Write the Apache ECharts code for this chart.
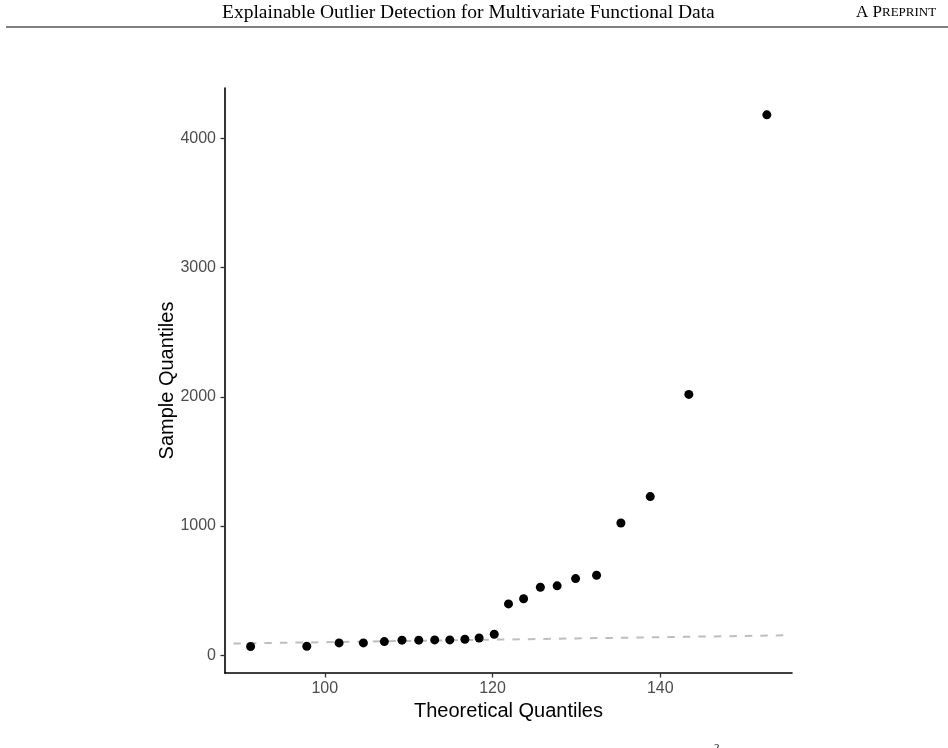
<!DOCTYPE html>
<html>
<head>
<meta charset="utf-8">
<title>QQ plot</title>
<script src="https://cdn.jsdelivr.net/npm/echarts@6.0.0/dist/echarts.min.js"></script>
<style>
  html, body { margin: 0; padding: 0; background: #fff; }
  #myChart { width: 948px; height: 748px; }
</style>
</head>
<body>
<div id="myChart"></div>
<script>
// theoretical vs sample quantiles
var theoretical = [91.15, 97.85, 101.7, 104.6, 107.1, 109.2, 111.2, 113.1, 114.9, 116.7, 118.4,
  120.2, 121.9, 123.7, 125.7, 127.7, 129.9, 132.4, 135.3, 138.8, 143.4, 152.7];
var sample = [67, 69, 95, 95, 105, 116, 116, 118, 118, 123, 133,
  162, 397, 437, 526, 537, 593, 619, 1023, 1228, 2019, 4183];

// reference (qq) line end points
var lineX = [89.1, 155.1];
var lineY = [90, 154];

// tick labels
var xTicks = [100, 120, 140];
var yTicks = [0, 1000, 2000, 3000, 4000];

var points = [];
for (var i = 0; i < theoretical.length; i++) {
  points.push([theoretical[i], sample[i]]);
}
var qqLine = [];
for (var j = 0; j < lineX.length; j++) {
  qqLine.push([lineX[j], lineY[j]]);
}

var myChart = echarts.init(document.getElementById('myChart'), null, { renderer: 'canvas' });

myChart.setOption({
  backgroundColor: '#fff',
  animation: false,
  graphic: [
    {
      type: 'text', left: 222, top: 3,
      style: { text: 'Explainable Outlier Detection for Multivariate Functional Data',
        font: '19.5px "Liberation Serif", serif', fill: '#000' }
    },
    {
      type: 'text', left: 856, top: 4,
      style: {
        text: '{a|A P}{b|REPRINT}',
        rich: {
          a: { font: '17px "Liberation Serif", serif', fill: '#000' },
          b: { font: '13px "Liberation Serif", serif', fill: '#000' }
        }
      }
    },
    {
      type: 'line',
      shape: { x1: 6, y1: 27, x2: 948, y2: 27 },
      style: { stroke: '#000', lineWidth: 1 }
    },
    {
      type: 'text', left: 714, top: 743,
      style: { text: '2', font: '11px "Liberation Serif", serif', fill: '#000' }
    }
  ],
  grid: { left: 225, top: 88, right: 156, bottom: 75, containLabel: false },
  xAxis: {
    type: 'value',
    min: 88.1,
    max: 155.7,
    name: 'Theoretical Quantiles',
    nameLocation: 'middle',
    nameGap: 28,
    nameMoveOverlap: false,
    nameTextStyle: { fontFamily: 'Liberation Sans', fontSize: 20, color: '#000' },
    splitLine: { show: false },
    axisLine: { show: true, onZero: false, lineStyle: { color: '#000', width: 1.6 } },
    axisTick: { show: true, length: 4.5, customValues: xTicks, lineStyle: { color: '#333', width: 1.3 } },
    axisLabel: { customValues: xTicks, margin: 8, fontFamily: 'Liberation Sans', fontSize: 16, color: '#4d4d4d',
      formatter: function (v) { return String(v); } }
  },
  yAxis: {
    type: 'value',
    min: -138,
    max: 4391,
    name: 'Sample Quantiles',
    nameLocation: 'middle',
    nameGap: 48,
    nameRotate: 90,
    nameMoveOverlap: false,
    nameTextStyle: { fontFamily: 'Liberation Sans', fontSize: 20, color: '#000' },
    splitLine: { show: false },
    axisLine: { show: true, onZero: false, lineStyle: { color: '#000', width: 1.6 } },
    axisTick: { show: true, length: 4.5, customValues: yTicks, lineStyle: { color: '#333', width: 1.3 } },
    axisLabel: { customValues: yTicks, margin: 9, fontFamily: 'Liberation Sans', fontSize: 16, color: '#4d4d4d',
      formatter: function (v) { return String(v); } }
  },
  series: [
    {
      name: 'qq line',
      type: 'line',
      data: qqLine,
      symbol: 'none',
      silent: true,
      z: 1,
      lineStyle: { color: '#bebebe', width: 2, type: [7.5, 8] }
    },
    {
      name: 'points',
      type: 'scatter',
      data: points,
      symbol: 'circle',
      symbolSize: 9,
      z: 2,
      itemStyle: { color: '#000', opacity: 1 }
    }
  ]
});
</script>
</body>
</html>
